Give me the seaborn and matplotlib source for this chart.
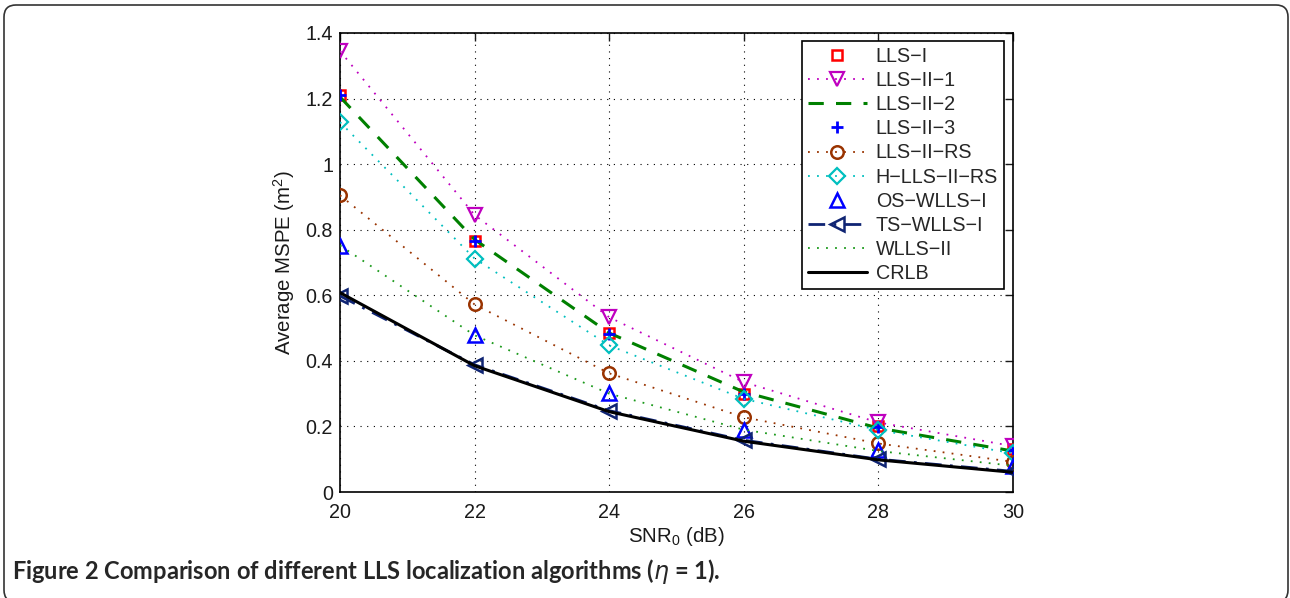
import matplotlib
matplotlib.use("Agg")
import matplotlib.pyplot as plt
import seaborn as sns
import pandas as pd
from matplotlib.patches import FancyBboxPatch
from matplotlib.lines import Line2D
from matplotlib.transforms import IdentityTransform

snr = [20, 22, 24, 26, 28, 30]
lls_i = [1.21, 0.765, 0.485, 0.300, 0.200, 0.130]
lls_ii_1 = [1.345, 0.845, 0.533, 0.335, 0.212, 0.140]
lls_ii_2 = [1.205, 0.770, 0.485, 0.305, 0.195, 0.125]
lls_ii_3 = [1.21, 0.765, 0.482, 0.300, 0.198, 0.128]
lls_ii_rs = [0.905, 0.572, 0.362, 0.228, 0.148, 0.092]
h_lls_ii_rs = [1.128, 0.712, 0.447, 0.284, 0.189, 0.118]
os_wlls_i = [0.750, 0.480, 0.303, 0.190, 0.128, 0.078]
ts_wlls_i = [0.598, 0.388, 0.248, 0.158, 0.100, 0.063]
wlls_ii = [0.752, 0.478, 0.300, 0.190, 0.125, 0.080]
crlb = [0.608, 0.385, 0.245, 0.155, 0.098, 0.060]

labels = ["LLS\u2212I", "LLS\u2212II\u22121", "LLS\u2212II\u22122", "LLS\u2212II\u22123",
          "LLS\u2212II\u2212RS", "H\u2212LLS\u2212II\u2212RS", "OS\u2212WLLS\u2212I",
          "TS\u2212WLLS\u2212I", "WLLS\u2212II", "CRLB"]
series = [lls_i, lls_ii_1, lls_ii_2, lls_ii_3, lls_ii_rs, h_lls_ii_rs,
          os_wlls_i, ts_wlls_i, wlls_ii, crlb]

sns.set_style("white")
plt.rcParams['font.family'] = ['Liberation Sans', 'DejaVu Sans']
plt.rcParams['mathtext.default'] = 'regular'
FS = 14.2
plt.rcParams['font.size'] = FS

DOT = (0, (1, 4))
styles = [
    dict(color=(1, 0, 0), ls='none', marker='s', ms=7, mew=1.8, lw=1.2),
    dict(color=(0.75, 0, 0.75), ls=DOT, marker='v', ms=10, mew=1.6, lw=1.3),
    dict(color=(0, 0.5, 0), ls=(0, (5, 4)), marker=None, ms=0, mew=1.5, lw=2.2),
    dict(color=(0, 0, 1), ls='none', marker='+', ms=9, mew=2.0, lw=1.2),
    dict(color=(0.6, 0.2, 0), ls=DOT, marker='o', ms=9, mew=1.8, lw=1.3),
    dict(color=(0, 0.75, 0.75), ls=DOT, marker='D', ms=8, mew=1.6, lw=1.3),
    dict(color=(0, 0, 1), ls='none', marker='^', ms=10, mew=1.8, lw=1.2),
    dict(color=(0.06, 0.14, 0.45), ls=(0, (6, 3, 1, 3)), marker='<', ms=10, mew=1.8, lw=2.0),
    dict(color=(0.1, 0.6, 0.1), ls=DOT, marker=None, ms=0, mew=1.5, lw=1.3),
    dict(color=(0, 0, 0), ls='-', marker=None, ms=0, mew=1.5, lw=2.2),
]

fig = plt.figure(figsize=(12.9, 5.98), dpi=100)
ax = fig.add_axes([340/1290, 1-492/598, 673/1290, 459/598])

handles = []
for lab, vals, st in zip(labels, series, styles):
    df = pd.DataFrame({"snr": snr, "mspe": vals})
    noline = st['ls'] == 'none'
    sns.lineplot(data=df, x="snr", y="mspe", ax=ax, color=st['color'],
                 linestyle='' if noline else st['ls'],
                 lw=0 if noline else st['lw'],
                 marker=st['marker'] if st['marker'] else '',
                 markersize=st['ms'], markerfacecolor='none',
                 markeredgecolor=st['color'], markeredgewidth=st['mew'],
                 legend=False, zorder=3)
    handles.append(Line2D([], [], color=st['color'],
                          linestyle='' if noline else st['ls'],
                          lw=st['lw'], marker=st['marker'] if st['marker'] else '',
                          markersize=st['ms'], markerfacecolor='none',
                          markeredgecolor=st['color'], markeredgewidth=st['mew']))

ax.set_xlim(20, 30)
ax.set_ylim(0, 1.4)
ax.set_xticks([20, 22, 24, 26, 28, 30])
ax.set_yticks([0, 0.2, 0.4, 0.6, 0.8, 1.0, 1.2, 1.4])
ax.set_yticklabels(["0", "0.2", "0.4", "0.6", "0.8", "1", "1.2", "1.4"])
ax.grid(True, color='black', linestyle=(0, (1, 5)), linewidth=0.8)
ax.tick_params(direction='in', length=6, width=1, top=True, right=True,
               labelsize=FS, colors=(0.1, 0.1, 0.1))
ax.tick_params(axis='x', pad=8)
ax.tick_params(axis='y', pad=5)
for sp in ax.spines.values():
    sp.set_color('black')
    sp.set_linewidth(1.2)
ax.set_xlabel("SNR$_0$ (dB)", fontsize=FS + 0.5, labelpad=2, color=(0.1, 0.1, 0.1))
ax.set_ylabel("Average MSPE (m$^2$)", fontsize=FS + 0.5, labelpad=6, color=(0.1, 0.1, 0.1))

leg = ax.legend(handles, labels, loc='upper right', bbox_to_anchor=(0.9866, 0.9826),
                borderaxespad=0, fancybox=False, framealpha=1, edgecolor='black',
                fontsize=FS, handlelength=3.0, labelspacing=0.26, handletextpad=0.45,
                borderpad=0.3)
leg.get_frame().set_linewidth(1.2)

frame = FancyBboxPatch((4, -4), 1284, 597, boxstyle="round,pad=0,rounding_size=12",
                       transform=IdentityTransform(), fill=False,
                       edgecolor=(0.2, 0.2, 0.2), linewidth=1.2, clip_on=False)
fig.patches.append(frame)

fig.text(12/1290, 1-571/598,
         r"Figure 2 Comparison of different LLS localization algorithms ($\it{\eta}$ = 1).",
         fontsize=17, fontweight='bold', family=['Lato', 'DejaVu Sans'],
         va='center', ha='left', color=(0.15, 0.15, 0.15))

fig.savefig("out.png", dpi=100)
